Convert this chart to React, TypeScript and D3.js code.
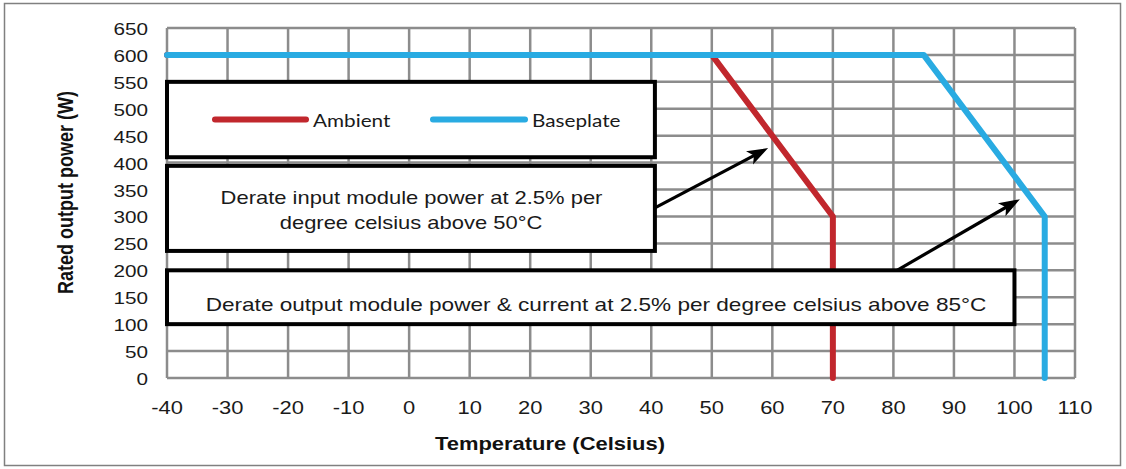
import React from "react";
import * as d3 from "d3";

const xTicks = [-40, -30, -20, -10, 0, 10, 20, 30, 40, 50, 60, 70, 80, 90, 100, 110];
const yTicks = [0, 50, 100, 150, 200, 250, 300, 350, 400, 450, 500, 550, 600, 650];

const ambientTemp = [-40, 50, 70, 70];
const ambientPower = [600, 600, 300, 0];
const baseplateTemp = [-40, 85, 105, 105];
const baseplatePower = [600, 600, 300, 0];

const seriesNames = ["Ambient", "Baseplate"];
const seriesColors = ["#c1272d", "#29abe2"];

const xTitle = "Temperature (Celsius)";
const yTitle = "Rated output power (W)";
const note1 = ["Derate input module power at 2.5% per", "degree celsius above 50°C"];
const note2 = "Derate output module power & current at 2.5% per degree celsius above 85°C";

// annotation geometry in data units
const legendBox = { x0: -40, x1: 40.6, y0: 410, y1: 550 };
const note1Box = { x0: -40, x1: 40.6, y0: 236, y1: 394 };
const note2Box = { x0: -40, x1: 100, y0: 100, y1: 200 };
const arrows = [
  { from: [40.6, 316], to: [59.3, 427] },
  { from: [80.6, 200], to: [100.9, 332] },
];

const W = 1126;
const H = 469;
const SX = 1.22;
const FONT = "'Liberation Sans', Arial, Helvetica, sans-serif";

function SText({ x, y, sx = SX, rotate = 0, children, ...rest }: any) {
  return (
    <text
      transform={`translate(${x},${y}) scale(${sx},1)${rotate ? ` rotate(${rotate})` : ""}`}
      fontFamily={FONT}
      fill="#1a1a1a"
      {...rest}
    >
      {children}
    </text>
  );
}

export default function App() {
  const x = d3.scaleLinear().domain([-40, 110]).range([167, 1075]);
  const y = d3.scaleLinear().domain([0, 650]).range([378, 28]);

  const line = d3
    .line<[number, number]>()
    .x((d) => x(d[0]))
    .y((d) => y(d[1]));

  const ambient = ambientTemp.map((t, i) => [t, ambientPower[i]] as [number, number]);
  const baseplate = baseplateTemp.map((t, i) => [t, baseplatePower[i]] as [number, number]);

  const box = (b: any, key: string) => (
    <rect
      key={key}
      x={x(b.x0)}
      y={y(b.y1)}
      width={x(b.x1) - x(b.x0)}
      height={y(b.y0) - y(b.y1)}
      fill="#fff"
      stroke="#000"
      strokeWidth={4}
    />
  );

  const arrowEls = arrows.map((a, i) => {
    const x1 = x(a.from[0]);
    const y1 = y(a.from[1]);
    const x2 = x(a.to[0]);
    const y2 = y(a.to[1]);
    const dx = x2 - x1;
    const dy = y2 - y1;
    const len = Math.hypot(dx, dy);
    const ux = dx / len;
    const uy = dy / len;
    const hl = 21;
    const hw = 7.5;
    const bx = x2 - ux * hl;
    const by = y2 - uy * hl;
    const inner = [bx + ux * 5, by + uy * 5];
    return (
      <g key={i}>
        <line x1={x1} y1={y1} x2={bx + ux * 6} y2={by + uy * 6} stroke="#000" strokeWidth={3.2} />
        <polygon
          points={`${x2},${y2} ${bx - uy * hw},${by + ux * hw} ${inner[0]},${inner[1]} ${bx + uy * hw},${by - ux * hw}`}
          fill="#000"
        />
      </g>
    );
  });

  return (
    <svg
      width={W}
      height={H}
      style={{ position: "absolute", left: 0, top: 0, background: "#fff" }}
    >
      <rect x={0} y={0} width={W} height={H} fill="#fff" />
      <rect x={4.5} y={3.5} width={1116} height={462} fill="none" stroke="#808080" strokeWidth={1.5} />

      {/* grid */}
      <g stroke="#8c8c8c" strokeWidth={2.5}>
        {xTicks.map((t) => (
          <line key={"gx" + t} x1={x(t)} x2={x(t)} y1={y(0)} y2={y(650)} />
        ))}
        {yTicks.map((t) => (
          <line key={"gy" + t} x1={x(-40)} x2={x(110)} y1={y(t)} y2={y(t)} />
        ))}
      </g>

      {/* tick labels */}
      {yTicks.map((t) => (
        <SText key={"yl" + t} x={148} y={y(t) + 7} fontSize={17} textAnchor="end">
          {t}
        </SText>
      ))}
      {xTicks.map((t) => (
        <SText key={"xl" + t} x={x(t)} y={414} fontSize={18} textAnchor="middle">
          {t}
        </SText>
      ))}

      {/* axis titles */}
      <SText x={550} y={450} fontSize={18} fontWeight="bold" textAnchor="middle" fill="#111">
        {xTitle}
      </SText>
      <SText x={73} y={192.5} rotate={-90} fontSize={18} fontWeight="bold" textAnchor="middle" fill="#111">
        {yTitle}
      </SText>

      {/* series */}
      <path d={line(ambient) || ""} fill="none" stroke={seriesColors[0]} strokeWidth={6} strokeLinecap="round" strokeLinejoin="round" />
      <path d={line(baseplate) || ""} fill="none" stroke={seriesColors[1]} strokeWidth={6} strokeLinecap="round" strokeLinejoin="round" />

      {/* legend */}
      {box(legendBox, "lb")}
      <line x1={215} x2={306} y1={119.5} y2={119.5} stroke={seriesColors[0]} strokeWidth={6} strokeLinecap="round" />
      <SText x={313} y={127} fontSize={17} style={{ fontFamily: "Lato, 'Open Sans', sans-serif" }}>
        {seriesNames[0]}
      </SText>
      <line x1={433} x2={525} y1={119.5} y2={119.5} stroke={seriesColors[1]} strokeWidth={6} strokeLinecap="round" />
      <SText x={532} y={127} fontSize={17} style={{ fontFamily: "Lato, 'Open Sans', sans-serif" }}>
        {seriesNames[1]}
      </SText>

      {/* annotation boxes */}
      {box(note1Box, "n1")}
      <SText x={411.5} y={203.5} fontSize={18} textAnchor="middle">
        {note1[0]}
      </SText>
      <SText x={411} y={228.5} fontSize={18} textAnchor="middle">
        {note1[1]}
      </SText>
      {box(note2Box, "n2")}
      <SText x={596} y={311} sx={1.255} fontSize={18} textAnchor="middle">
        {note2}
      </SText>

      {arrowEls}
    </svg>
  );
}
